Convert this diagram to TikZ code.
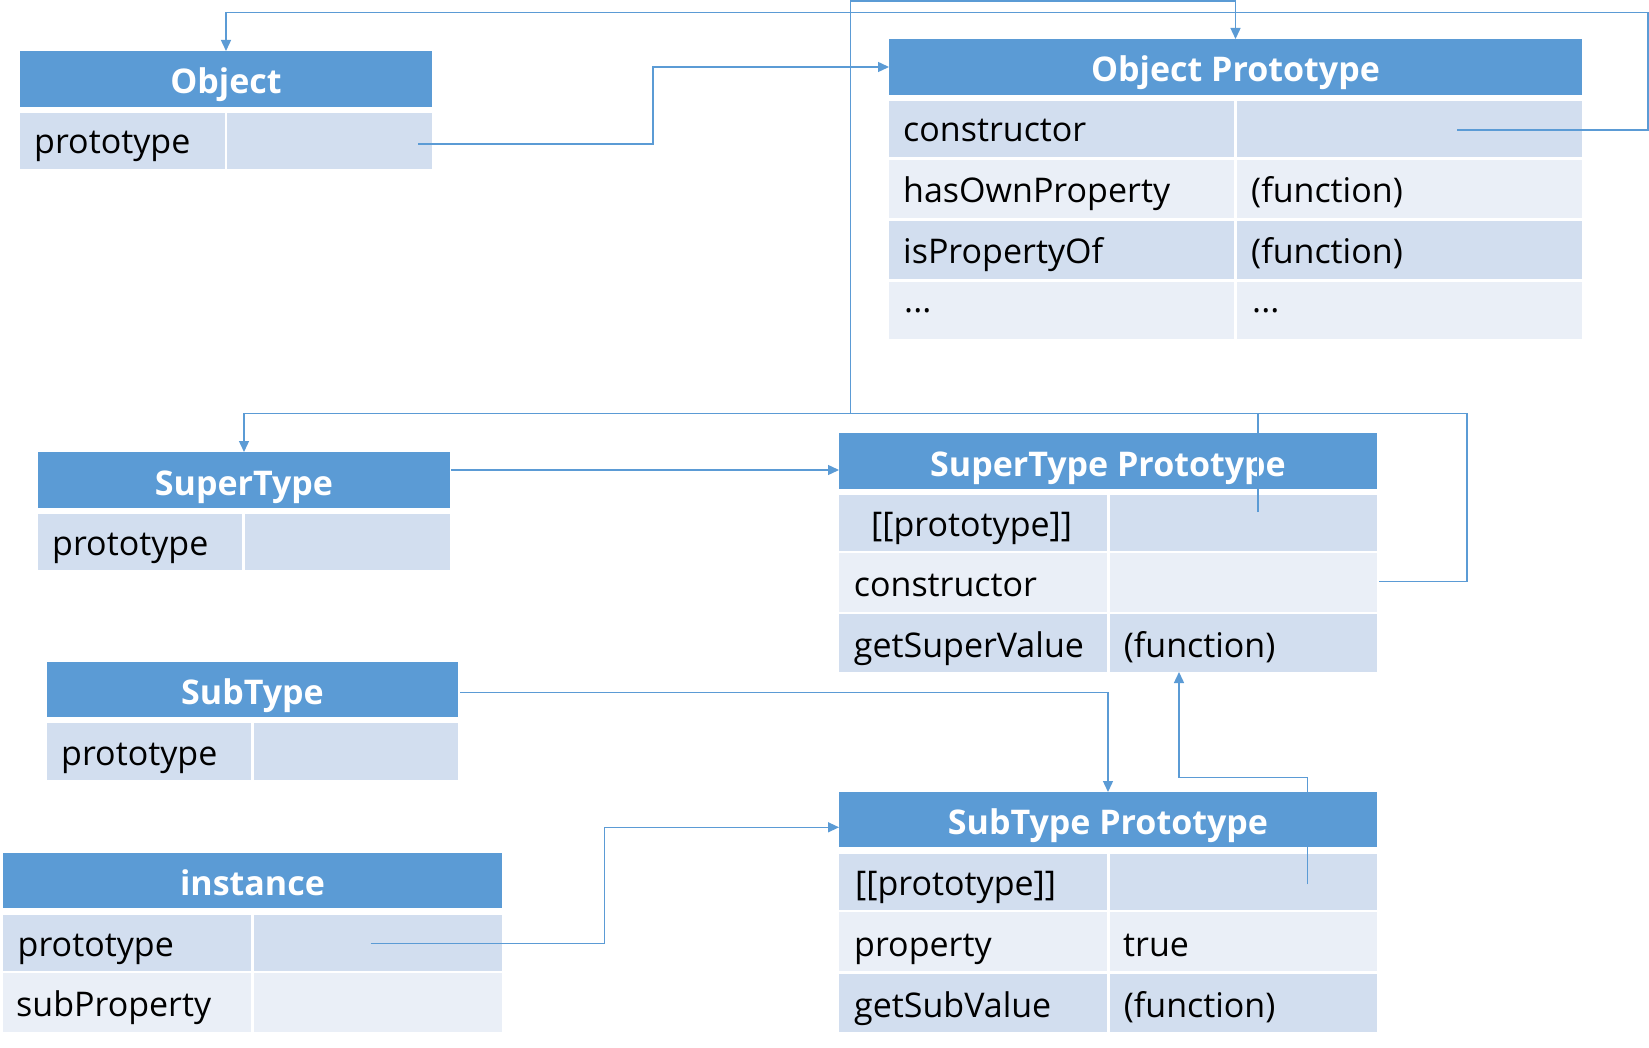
\documentclass[tikz,border=0pt]{standalone}
\usepackage{fontspec}
\setmainfont{Open Sans}
\usetikzlibrary{arrows.meta}
\definecolor{hdrblue}{RGB}{91,155,213}
\definecolor{rowdark}{RGB}{210,222,239}
\definecolor{rowlight}{RGB}{234,239,247}
\definecolor{linkblue}{RGB}{91,155,213}
\tikzset{
 hdrbox/.style={rectangle, fill=hdrblue, inner sep=0pt, outer sep=0pt},
 cellbox/.style={rectangle, inner sep=0pt, outer sep=0pt},
 hdrtext/.style={inner sep=0pt, text=white, font=\fontsize{34}{40}\selectfont\bfseries},
 celltext/.style={inner sep=0pt, text=black, font=\fontsize{34}{40}\selectfont},
 conn/.style={draw=linkblue, line width=1.4pt},
 arr/.style={conn, -{Triangle[length=11pt,width=10pt]}}
}
\newcommand{\mkhdr}[6]{%
 \node[hdrbox, minimum width={#4-#2}, minimum height={#5-#3}] (#1) at ({(#2+#4)/2},{(#3+#5)/2}) {};
 \node[hdrtext, anchor=base] (#1-t) at ({(#2+#4)/2},{#5-13}) {#6};}
\newcommand{\mkcell}[6]{%
 \node[cellbox, fill=#6, minimum width={#4-#2}, minimum height={#5-#3}] (#1) at ({(#2+#4)/2},{(#3+#5)/2}) {};}
\newcommand{\mktxt}[4]{\node[celltext, anchor=base west] (#1) at (#2,#3) {#4};}
\begin{document}
\begin{tikzpicture}[x=1pt,y=-1pt]
\fill[white] (0,0) rectangle (1649,1048);
\useasboundingbox (0,0) rectangle (1649,1048);

% Object
\mkhdr{O}{20}{51}{432}{107}{Object}
\mkcell{O1k}{20}{113}{224.5}{169}{rowdark}
\mkcell{O1v}{227}{113}{432}{169}{rowdark}
\mktxt{O1kt}{34}{154}{prototype}

% Object Prototype
\mkhdr{OP}{889}{39}{1582}{95}{Object Prototype}
\mkcell{OP1k}{889}{101}{1233.5}{157}{rowdark}
\mkcell{OP1v}{1236.5}{101}{1582}{157}{rowdark}
\mkcell{OP2k}{889}{160}{1233.5}{218}{rowlight}
\mkcell{OP2v}{1236.5}{160}{1582}{218}{rowlight}
\mkcell{OP3k}{889}{221}{1233.5}{279}{rowdark}
\mkcell{OP3v}{1236.5}{221}{1582}{279}{rowdark}
\mkcell{OP4k}{889}{282}{1233.5}{339}{rowlight}
\mkcell{OP4v}{1236.5}{282}{1582}{339}{rowlight}
\mktxt{OP1kt}{903}{142}{constructor}
\mktxt{OP2kt}{903}{203}{hasOwnProperty}
\mktxt{OP2vt}{1251}{203}{(function)}
\mktxt{OP3kt}{903}{264}{isPropertyOf}
\mktxt{OP3vt}{1251}{264}{(function)}
\mktxt{OP4kt}{904}{313}{...}
\mktxt{OP4vt}{1252}{313}{...}

% SuperType
\mkhdr{ST}{38}{452}{450}{508}{SuperType}
\mkcell{ST1k}{38}{514}{242}{570}{rowdark}
\mkcell{ST1v}{245}{514}{450}{570}{rowdark}
\mktxt{ST1kt}{52}{555}{prototype}

% SubType
\mkhdr{SB}{47}{662}{458}{717}{SubType}
\mkcell{SB1k}{47}{723}{251}{780}{rowdark}
\mkcell{SB1v}{254}{723}{458}{780}{rowdark}
\mktxt{SB1kt}{61}{765}{prototype}

% instance
\mkhdr{I}{3}{853}{502}{908}{instance}
\mkcell{I1k}{3}{915}{251}{971}{rowdark}
\mkcell{I1v}{254}{915}{502}{971}{rowdark}
\mkcell{I2k}{3}{973}{251}{1032}{rowlight}
\mkcell{I2v}{254}{973}{502}{1032}{rowlight}
\mktxt{I1kt}{17.5}{956}{prototype}
\mktxt{I2kt}{16}{1016}{subProperty}

% SuperType Prototype
\mkhdr{SP}{839}{433}{1377}{489}{SuperType Prototype}
\mkcell{SP1k}{839}{495}{1106.5}{551}{rowdark}
\mkcell{SP1v}{1109.5}{495}{1377}{551}{rowdark}
\mkcell{SP2k}{839}{553}{1106.5}{612}{rowlight}
\mkcell{SP2v}{1109.5}{553}{1377}{612}{rowlight}
\mkcell{SP3k}{839}{614}{1106.5}{672}{rowdark}
\mkcell{SP3v}{1109.5}{614}{1377}{672}{rowdark}
\mktxt{SP1kt}{871}{536}{[[prototype]]}
\mktxt{SP2kt}{853.7}{596}{constructor}
\mktxt{SP3kt}{853.7}{657}{getSuperValue}
\mktxt{SP3vt}{1123.6}{657}{(function)}

% SubType Prototype
\mkhdr{SBP}{839}{792}{1377}{847}{SubType Prototype}
\mkcell{SBP1k}{839}{854}{1106.5}{910}{rowdark}
\mkcell{SBP1v}{1109.5}{854}{1377}{910}{rowdark}
\mkcell{SBP2k}{839}{912}{1106.5}{971}{rowlight}
\mkcell{SBP2v}{1109.5}{912}{1377}{971}{rowlight}
\mkcell{SBP3k}{839}{974}{1106.5}{1032}{rowdark}
\mkcell{SBP3v}{1109.5}{974}{1377}{1032}{rowdark}
\mktxt{SBP1kt}{855}{895}{[[prototype]]}
\mktxt{SBP2kt}{854}{956}{property}
\mktxt{SBP2vt}{1123}{956}{true}
\mktxt{SBP3kt}{854}{1017}{getSubValue}
\mktxt{SBP3vt}{1123.6}{1017}{(function)}

% connectors
\coordinate (c1s) at (418,144);
\draw[arr] (c1s) -- (653,144) |- (OP.west);

\coordinate (c2s) at (1457,130);
\draw[arr] (c2s) -- (1648,130) -- (1648,12.7) -| (O.north);

\coordinate (c3s) at (1258,512);
\draw[arr] (c3s) -- (1258,413.7) -- (850.4,413.7) -- (850.4,1.2) -| (OP.north);

\coordinate (c4s) at (1379,581.7);
\draw[arr] (c4s) -- (1467,581.7) -- (1467,413.7) -| (ST.north);

\coordinate (c5s) at (451,470);
\draw[arr] (c5s) -- (c5s -| SP.west);

\coordinate (c6s) at (460,692.3);
\draw[arr] (c6s) -| (SBP.north);

\coordinate (c7s) at (1307.6,884.3);
\coordinate (c7e) at (1179,672);
\draw[arr] (c7s) -- (1307.6,777.3) -| (c7e);

\coordinate (c8s) at (370.5,943.3);
\coordinate (c8e) at (839,827.3);
\draw[arr] (c8s) -- (604.5,943.3) |- (c8e);
\end{tikzpicture}
\end{document}
